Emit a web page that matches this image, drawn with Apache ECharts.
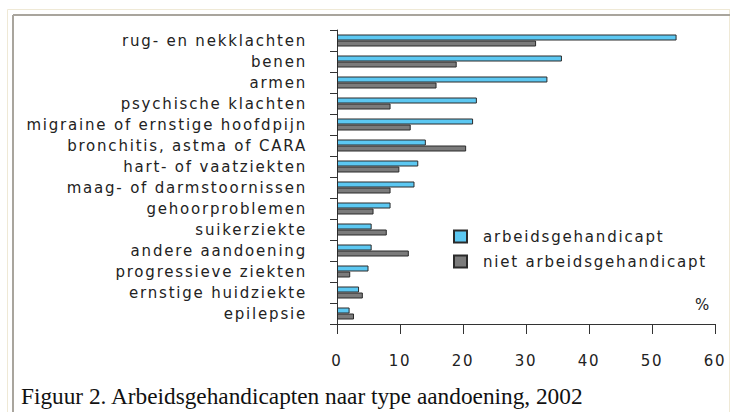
<!DOCTYPE html>
<html>
<head>
<meta charset="utf-8">
<script src="https://cdn.jsdelivr.net/npm/echarts@6/dist/echarts.min.js"></script>
<style>
  html, body { margin: 0; padding: 0; background: #fff; }
  #chart { width: 730px; height: 412px; }
  /* the original chart font is widely spaced */
  #chart text { letter-spacing: 1.8px; }
  #chart text[style*="Serif"] { letter-spacing: 0; }
</style>
</head>
<body>
<div id="chart"></div>
<script>
// categories, top to bottom
var categories = [
  'rug- en nekklachten',
  'benen',
  'armen',
  'psychische klachten',
  'migraine of ernstige hoofdpijn',
  'bronchitis, astma of CARA',
  'hart- of vaatziekten',
  'maag- of darmstoornissen',
  'gehoorproblemen',
  'suikerziekte',
  'andere aandoening',
  'progressieve ziekten',
  'ernstige huidziekte',
  'epilepsie'
]
var arbeidsgehandicapt = [53.9, 35.7, 33.4, 22.2, 21.6, 14.1, 12.9, 12.3, 8.5, 5.5, 5.5, 5.0, 3.5, 2.0]
var nietArbeidsgehandicapt = [31.6, 19.0, 15.8, 8.5, 11.7, 20.5, 9.9, 8.5, 5.8, 7.9, 11.4, 2.1, 4.1, 2.7]
var xTicks = [0, 10, 20, 30, 40, 50, 60]

var labelFont = 'DejaVu Sans'
var chart = echarts.init(document.getElementById('chart'), null, { renderer: 'svg' })

var option = {
  animation: false,
  backgroundColor: '#fff',
  grid: { left: 337, right: 15, top: 30, bottom: 88, containLabel: false },
  legend: {
    orient: 'vertical',
    left: 453,
    top: 229,
    padding: 0,
    itemWidth: 13,
    itemHeight: 12,
    itemGap: 10,
    icon: 'rect',
    textStyle: { fontFamily: labelFont, fontSize: 15, color: '#222', padding: [0, 0, 0, 11] },
    data: ['arbeidsgehandicapt', 'niet arbeidsgehandicapt']
  },
  xAxis: {
    type: 'value',
    min: xTicks[0],
    max: xTicks[xTicks.length - 1],
    interval: 10,
    splitLine: { show: false },
    axisLine: { show: true, lineStyle: { color: '#333', width: 1 } },
    axisTick: { show: true, length: 10, lineStyle: { color: '#333' } },
    axisLabel: { margin: 29, fontFamily: labelFont, fontSize: 15, color: '#222' }
  },
  yAxis: {
    type: 'category',
    inverse: true,
    data: categories,
    axisLine: { show: true, lineStyle: { color: '#333', width: 1 } },
    axisTick: { show: true, length: 7, lineStyle: { color: '#333' } },
    axisLabel: { margin: 30, fontFamily: labelFont, fontSize: 15, color: '#222', padding: [0, 0, 2, 0] }
  },
  series: [
    {
      name: 'arbeidsgehandicapt',
      type: 'bar',
      data: arbeidsgehandicapt,
      barWidth: 6,
      barGap: '0%',
      itemStyle: { color: '#5cc8f2', borderColor: '#2a2a2a', borderWidth: 1 }
    },
    {
      name: 'niet arbeidsgehandicapt',
      type: 'bar',
      data: nietArbeidsgehandicapt,
      barWidth: 6,
      itemStyle: { color: '#7b7b7b', borderColor: '#2a2a2a', borderWidth: 1 }
    }
  ],
  graphic: [
    // outer frame
    { type: 'line', shape: { x1: 7.5, y1: 9.5, x2: 7.5, y2: 412 }, style: { stroke: '#efe9d6', lineWidth: 1 } },
    { type: 'line', shape: { x1: 7.5, y1: 9.5, x2: 730, y2: 9.5 }, style: { stroke: '#efe9d6', lineWidth: 1 } },
    { type: 'line', shape: { x1: 729.5, y1: 9.5, x2: 729.5, y2: 412 }, style: { stroke: '#efe9d6', lineWidth: 1 } },
    { type: 'line', shape: { x1: 13, y1: 15, x2: 13, y2: 412 }, style: { stroke: '#a9a59d', lineWidth: 2 } },
    { type: 'line', shape: { x1: 13, y1: 15, x2: 730, y2: 15 }, style: { stroke: '#a9a59d', lineWidth: 2 } },
    {
      type: 'text', left: 695, top: 297,
      style: { text: '%', fontFamily: labelFont, fontSize: 15, fill: '#222' }
    },
    {
      type: 'text', left: 21, top: 384,
      style: {
        text: 'Figuur 2. Arbeidsgehandicapten naar type aandoening, 2002',
        fontFamily: 'Liberation Serif', fontSize: 23.3, fill: '#111'
      }
    }
  ]
}

chart.setOption(option)
window.addEventListener('resize', function () { chart.resize() })
</script>
</body>
</html>
